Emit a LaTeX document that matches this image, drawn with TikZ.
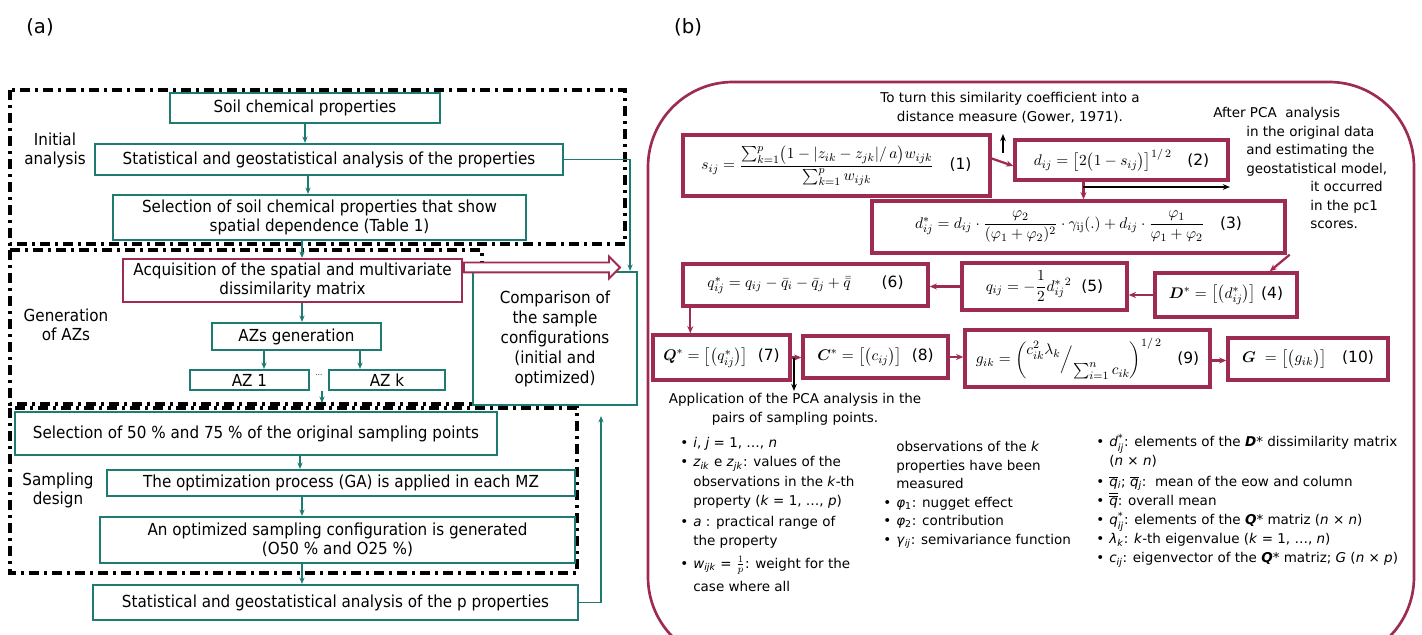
\documentclass[tikz,border=0pt]{standalone}
\usepackage[no-math]{fontspec}
\usepackage{amsmath}
\setmainfont{DejaVu Sans}
\newfontfamily\condsans{DejaVu Sans}[FakeStretch=0.915]
\usetikzlibrary{arrows.meta, positioning, calc, shapes.arrows}
\definecolor{cteal}{HTML}{1E7B72}
\definecolor{cred}{HTML}{9E2B50}
\newlength\pxu
\setlength\pxu{0.025cm}
\newcommand\itm{\makebox[13\pxu][l]{\textbullet}}
\newcommand\cnt{\hspace*{13\pxu}}
\newcommand\supsub[2]{$^{\mbox{\scriptsize #1}}_{\mbox{\scriptsize\itshape #2}}$}
\tikzset{
  every picture/.style={x=0.025cm, y=-0.025cm},
  abox/.style={draw=#1, line width=1.5pt, fill=white, align=center, inner sep=2pt, font=\condsans\fontsize{11.8}{13.5}\selectfont},
  abox/.default=cteal,
  frm/.style={draw=cred, line width=2.4pt, fill=white, inner sep=2pt, font=\fontsize{11}{12}\selectfont},
  stage/.style={draw=black, line width=2.6pt, dash pattern=on 10\pxu off 5\pxu on 3\pxu off 5\pxu},
  stagelbl/.style={align=center, font=\condsans\fontsize{11.8}{13.5}\selectfont},
  dblarrow/.style={single arrow, draw=cred, fill=white, line width=1.3pt, inner sep=0pt, inner ysep=4\pxu, single arrow head extend=6\pxu, single arrow head indent=0pt},
  tarrow/.style={-{Stealth[length=1.6mm, width=1.3mm]}, draw=cteal, line width=0.9pt},
  rarrow/.style={-{Stealth[length=1.8mm, width=1.5mm]}, draw=cred, line width=1.6pt},
  karrow/.style={-{Stealth[length=1.8mm, width=1.4mm]}, draw=black, line width=1.2pt},
  note/.style={align=center, font=\fontsize{9.6}{13.2}\selectfont},
  panel/.style={font=\fontsize{14}{16}\selectfont},
}

\begin{document}
\begin{tikzpicture}
  \useasboundingbox (0,0) rectangle (1422,635);
  \clip (0,0) rectangle (1422,635);

  \node[panel] (lbla) at (40,27) {(a)};
  \node[panel] (lblb) at (688,27) {(b)};

  % stages of panel (a)
  \draw[stage] (10,90) rectangle (625,244);
  \draw[stage] (10,250) rectangle (482,404);
  \draw[stage] (10,408) rectangle (577,573);
  \node[stagelbl] (lini) at (55,150) {Initial\\analysis};
  \node[stagelbl] (lgen) at (66,325) {Generation\\of AZs};
  \node[stagelbl] (lsam) at (58,490) {Sampling\\design};

  \node[abox, minimum width=270\pxu, minimum height=30\pxu] (soil) at (305,108) {Soil chemical properties};
  \node[abox, minimum width=468\pxu, minimum height=31\pxu] (stat) at (329,159.5) {Statistical and geostatistical analysis of the properties};
  \node[abox, minimum width=413\pxu, minimum height=45\pxu] (sel) at (319.5,217.5) {Selection of soil chemical properties that show\\spatial dependence (Table 1)};
  \node[abox=cred, minimum width=339\pxu, minimum height=43\pxu] (acq) at (292.5,280.5) {Acquisition of the spatial and multivariate\\dissimilarity matrix};
  \node[abox, minimum width=169\pxu, minimum height=27\pxu] (azs) at (296.5,336.5) {AZs generation};
  \node[abox, minimum width=119\pxu, minimum height=20\pxu, inner sep=0pt] (az1) at (249.5,380) {AZ 1};
  \node[abox, minimum width=116\pxu, minimum height=20\pxu, inner sep=0pt] (azk) at (387,380) {AZ k};
  \node[font=\tiny] (dots) at (319,375) {...};
  \node[abox, minimum width=164\pxu, minimum height=133\pxu, font=\condsans\fontsize{11.8}{14.2}\selectfont] (cmp) at (555,338.5) {Comparison of\\the sample\\configurations\\(initial and\\optimized)};
  \node[abox, minimum width=482\pxu, minimum height=43\pxu] (sel50) at (256,433.5) {Selection of 50 \% and 75 \% of the original sampling points};
  \node[abox, minimum width=468\pxu, minimum height=26\pxu] (opt) at (341,483) {The optimization process (GA) is applied in each MZ};
  \node[abox, minimum width=475\pxu, minimum height=46\pxu] (gen) at (337.5,540) {An optimized sampling configuration is generated\\(O50 \% and O25 \%)};
  \node[abox, minimum width=485\pxu, minimum height=35\pxu] (statp) at (335.5,602.5) {Statistical and geostatistical analysis of the p properties};

  \draw[tarrow] (soil.south) -- (soil.south |- stat.north);
  \draw[tarrow] ([xshift=-21\pxu]stat.south) -- ([xshift=-21\pxu]stat.south |- sel.north);
  \draw[tarrow] ([xshift=-17.5\pxu]sel.south) -- ([xshift=-17.5\pxu]sel.south |- acq.north);
  \draw[tarrow] ([xshift=9.5\pxu]acq.south) -- ([xshift=9.5\pxu]acq.south |- azs.north);
  \draw[tarrow] ([xshift=-32.5\pxu]azs.south) -- ([xshift=-32.5\pxu]azs.south |- az1.north);
  \draw[tarrow] ([xshift=63.5\pxu]azs.south) -- ([xshift=63.5\pxu]azs.south |- azk.north);
  \coordinate (azgap) at (322,403);
  \draw[tarrow] (azgap |- az1.south) -- (azgap);
  \draw[tarrow] ([xshift=44\pxu]sel50.south) -- ([xshift=44\pxu]sel50.south |- opt.north);
  \draw[tarrow] ([xshift=-39\pxu]opt.south) -- ([xshift=-39\pxu]opt.south |- gen.north);
  \draw[tarrow] ([xshift=-35.5\pxu]gen.south) -- ([xshift=-35.5\pxu]gen.south |- statp.north);
  \draw[tarrow] (stat.east) -| ([xshift=-8\pxu]cmp.north east);
  \draw[tarrow] (statp.east) -| ([xshift=46\pxu, yshift=-10\pxu]cmp.south);
  \node[dblarrow, minimum height=156\pxu, anchor=tail] (dbl) at ([yshift=13\pxu]acq.east) {};

  % panel (b)
  \draw[cred, line width=1.9pt, rounded corners=85\pxu] (648,82) rectangle (1414,662);

  \node[frm, minimum width=307\pxu, minimum height=61\pxu] (f1) at (836.5,165.5) {$s_{ij}=\dfrac{\sum_{k=1}^{p}\bigl(1-\lvert z_{ik}-z_{jk}\rvert/\,a\bigr)w_{ijk}}{\sum_{k=1}^{p}w_{ijk}}$\quad(1)};
  \node[frm, minimum width=213\pxu, minimum height=40\pxu] (f2) at (1121.5,160) {$d_{ij}=\bigl[2\bigl(1-s_{ij}\bigr)\bigr]^{1/\,2}$\quad(2)};
  \node[frm, minimum width=413\pxu, minimum height=52\pxu] (f3) at (1078.5,227) {$d^{*}_{ij}=d_{ij}\cdot\dfrac{\varphi_2}{(\varphi_1+\varphi_2)^2}\cdot\gamma_{\mathrm{ij}}(.)+d_{ij}\cdot\dfrac{\varphi_1}{\varphi_1+\varphi_2}$\quad(3)};
  \node[frm, minimum width=142\pxu, minimum height=44\pxu] (f4) at (1226,295) {$\boldsymbol{D}^{*}=\bigl[\bigl(d^{*}_{ij}\bigr)\bigr]$ (4)};
  \node[frm, minimum width=165\pxu, minimum height=47\pxu] (f5) at (1044.5,286.5) {$q_{ij}=-\dfrac{1}{2}{d^{*}_{ij}}^{2}$\ \ (5)};
  \node[frm, minimum width=245\pxu, minimum height=42\pxu] (f6) at (805.5,285) {$q^{*}_{ij}=q_{ij}-\bar{q}_{i}-\bar{q}_{j}+\bar{\bar{q}}$\qquad(6)};
  \node[frm, minimum width=137\pxu, minimum height=45\pxu] (f7) at (721.5,357.5) {$\boldsymbol{Q}^{*}=\bigl[\bigl(q^{*}_{ij}\bigr)\bigr]$\ \ (7)};
  \node[frm, minimum width=145\pxu, minimum height=42\pxu] (f8) at (875.5,357) {$\boldsymbol{C}^{*}=\bigl[\bigl(c_{ij}\bigr)\bigr]$\ \ (8)};
  \node[frm, minimum width=245\pxu, minimum height=57\pxu] (f9) at (1087.5,358.5) {$g_{ik}=\left(\raisebox{1.1ex}{$c^{2}_{ik}\lambda_k$}\Big/\raisebox{-1.3ex}{$\sum_{i=1}^{n}c_{ik}$}\right)^{1/\,2}$\quad(9)};
  \node[frm, minimum width=160\pxu, minimum height=42\pxu] (f10) at (1308,359) {$\boldsymbol{G}\ =\bigl[\bigl(g_{ik}\bigr)\bigr]$\quad(10)};

  \draw[rarrow] ([yshift=7\pxu]f1.east) -- ([yshift=-6\pxu]f2.west);
  \draw[rarrow] ([xshift=-38\pxu]f2.south) -- ([xshift=-38\pxu]f2.south |- f3.north);
  \draw[rarrow] ([xshift=3\pxu]f3.south east) -- ([xshift=-29\pxu]f4.north east);
  \draw[rarrow] (f4.west) -- (f4.west -| f5.east);
  \draw[rarrow] (f5.west) -- (f5.west -| f6.east);
  \draw[rarrow] ([xshift=9\pxu]f6.south west) -- ([xshift=9\pxu]f6.south west |- f7.north);
  \draw[rarrow] (f7.east) -- (f7.east -| f8.west);
  \draw[rarrow] (f8.east) -- (f8.east -| f9.west);
  \draw[rarrow] ([yshift=-2\pxu]f9.east) -- ([yshift=-2\pxu]f9.east -| f10.west);

  \coordinate (upA) at (1003,153);
  \coordinate (upB) at (1003,134);
  \draw[karrow] (upA) -- (upB);
  \coordinate (rtA) at (1083,187);
  \coordinate (rtB) at (1230,187);
  \draw[karrow] (rtA) -- (rtB);
  \coordinate (dnA) at (794,358);
  \coordinate (dnB) at (794,391);
  \draw[karrow] (dnA) -- (dnB);

  \node[note] (gower) at (1010,108) {To turn this similarity coefficient into a\\distance measure (Gower, 1971).};
  \node[note, align=left, anchor=north west, inner sep=0pt] (pcanote) at (1213,107) {After PCA\ \ analysis\\\hspace*{33\pxu}in the original data\\\hspace*{33\pxu}and estimating the\\\hspace*{33\pxu}geostatistical model,\\\hspace*{97\pxu}it occurred\\\hspace*{97\pxu}in the pc1\\\hspace*{97\pxu}scores.};
  \node[note] (apply) at (795,409) {Application of the PCA analysis in the\\pairs of sampling points.};

  \node[note, align=left, anchor=north west, inner sep=0pt, font=\fontsize{9.6}{13.7}\selectfont] (col1) at (680,437) {\itm \textit{i}, \textit{j} = 1, …, \textit{n}\\
    \itm \textit{z}\textsubscript{\textit{ik}} e \textit{z}\textsubscript{\textit{jk}}: values of the\\
    \cnt observations in the \textit{k}-th\\
    \cnt property (\textit{k} = 1, …, \textit{p})\\[1.5pt]
    \itm \textit{a} : practical range of\\
    \cnt the property\\[2pt]
    \itm \textit{w}\textsubscript{\textit{ijk}} = $\frac{1}{p}$: weight for the\\[3pt]
    \cnt case where all};
  \node[note, align=left, anchor=north west, inner sep=0pt] (col2) at (883,441) {\cnt observations of the \textit{k}\\
    \cnt properties have been\\
    \cnt measured\\
    \itm \textit{φ}\textsubscript{1}: nugget effect\\
    \itm \textit{φ}\textsubscript{2}: contribution\\
    \itm \textit{γ}\textsubscript{\textit{ij}}: semivariance function};
  \node[note, align=left, anchor=north west, inner sep=0pt, font=\fontsize{9.6}{13.6}\selectfont] (col3) at (1096,434) {\itm \textit{d}\supsub{*}{ij}: elements of the \textbf{\textit{D}}* dissimilarity matrix\\
    \cnt (\textit{n} × \textit{n})\\[1pt]
    \itm $\overline{\mbox{\textit{q}}}$\textsubscript{\textit{i}}; $\overline{\mbox{\textit{q}}}$\textsubscript{\textit{j}}:\ \ mean of the eow and column\\
    \itm $\overline{\overline{\mbox{\textit{q}}}}$: overall mean\\
    \itm \textit{q}\supsub{*}{ij}: elements of the \textbf{\textit{Q}}* matriz (\textit{n} × \textit{n})\\
    \itm \textit{λ}\textsubscript{\textit{k}}: \textit{k}-th eigenvalue (\textit{k} = 1, …, \textit{n})\\
    \itm \textit{c}\textsubscript{\textit{ij}}: eigenvector of the \textbf{\textit{Q}}* matriz; \textit{G} (\textit{n} × \textit{p})};
\end{tikzpicture}
\end{document}
